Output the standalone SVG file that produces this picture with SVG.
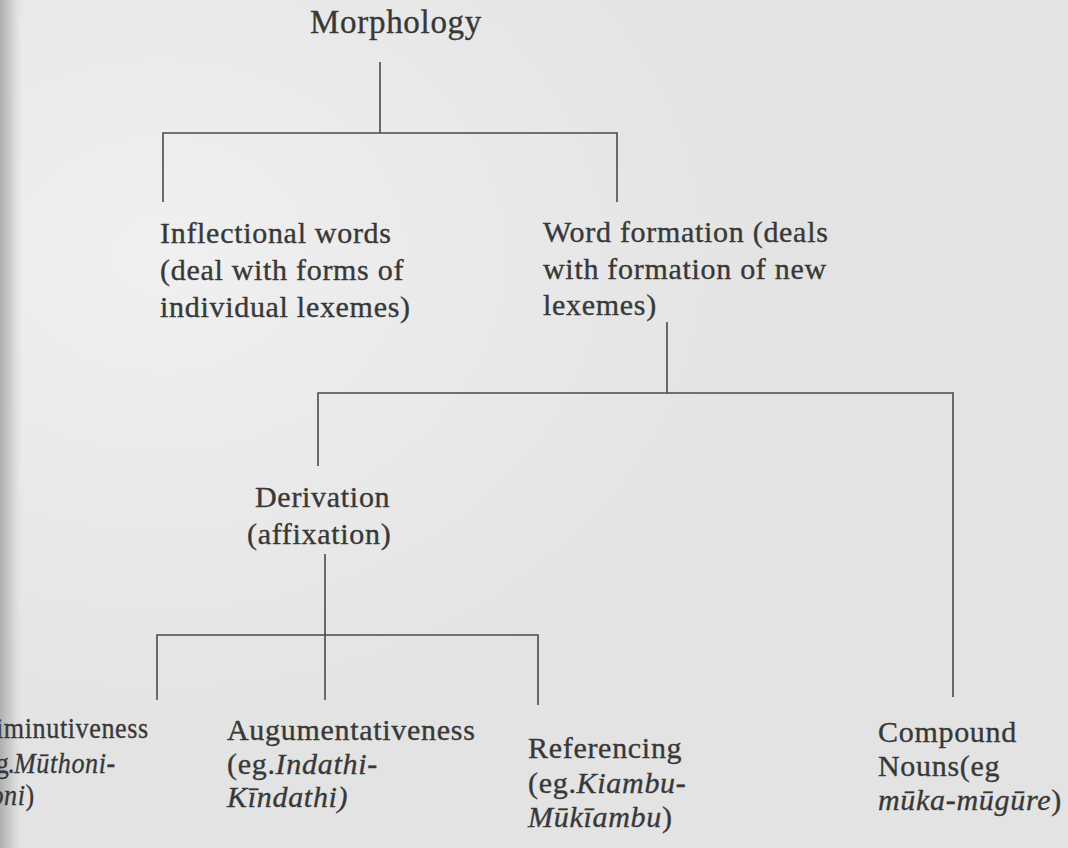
<svg xmlns="http://www.w3.org/2000/svg" width="1068" height="848" viewBox="0 0 1068 848">
<defs>
<radialGradient id="glow" cx="0.15" cy="0.3" r="0.6">
<stop offset="0" stop-color="#f0f0f0"/>
<stop offset="1" stop-color="#f0f0f0" stop-opacity="0"/>
</radialGradient>
<linearGradient id="gutter" x1="0" y1="0" x2="1" y2="0">
<stop offset="0" stop-color="#b0b0b0"/>
<stop offset="0.45" stop-color="#cdcdcd"/>
<stop offset="1" stop-color="#e4e4e4" stop-opacity="0"/>
</linearGradient>
<style>
.t{font-family:"Liberation Serif","Times New Roman",serif;font-size:30px;fill:#383838;stroke:#383838;stroke-width:0.35;letter-spacing:0.7px}
.i{font-style:italic}
.c{stroke:#4a4a4a;stroke-width:1.6;fill:none}
</style>
</defs>
<rect x="0" y="0" width="1068" height="848" fill="#e3e3e3"/>
<rect x="0" y="0" width="1068" height="848" fill="url(#glow)"/>
<rect x="0" y="0" width="24" height="848" fill="url(#gutter)"/>
<g id="connectors">
<path class="c" d="M380 62V133M163 202V133H617V202"/>
<path class="c" d="M667 322V393M318 466V393H953V697"/>
<path class="c" d="M325 554V700M157 700V635H538V705"/>
</g>
<g id="morphology"><text class="t" x="310" y="33" style="font-size:33px">Morphology</text></g>
<g id="inflectional">
<text class="t" x="160" y="243">Inflectional words</text>
<text class="t" x="160" y="280">(deal with forms of</text>
<text class="t" x="160" y="317">individual lexemes)</text>
</g>
<g id="wordformation">
<text class="t" x="543" y="242">Word formation (deals</text>
<text class="t" x="543" y="279">with formation of new</text>
<text class="t" x="543" y="315">lexemes)</text>
</g>
<g id="derivation">
<text class="t" x="255" y="507">Derivation</text>
<text class="t" x="247" y="544">(affixation)</text>
</g>
<g id="diminutiveness" transform="scale(0.87 1)">
<text class="t" x="-27" y="738">Diminutiveness</text>
<text class="t" y="773"><tspan x="-31">(e</tspan><tspan x="-5">g</tspan><tspan x="9">.</tspan><tspan class="i" x="16">Mūthoni-</tspan></text>
<text class="t" x="-11" y="805"><tspan class="i">oni</tspan>)</text>
</g>
<g id="augmentativeness">
<text class="t" x="227" y="740">Augumentativeness</text>
<text class="t" x="227" y="774">(eg.<tspan class="i">Indathi-</tspan></text>
<text class="t i" x="227" y="807">Kīndathi)</text>
</g>
<g id="referencing">
<text class="t" x="528" y="758">Referencing</text>
<text class="t" x="528" y="793">(eg.<tspan class="i">Kiambu-</tspan></text>
<text class="t" x="528" y="827"><tspan class="i">Mūkīambu</tspan>)</text>
</g>
<g id="compound">
<text class="t" x="878" y="742">Compound</text>
<text class="t" x="878" y="776">Nouns(eg</text>
<text class="t" x="878" y="810"><tspan class="i">mūka-mūgūre</tspan>)</text>
</g>
</svg>
